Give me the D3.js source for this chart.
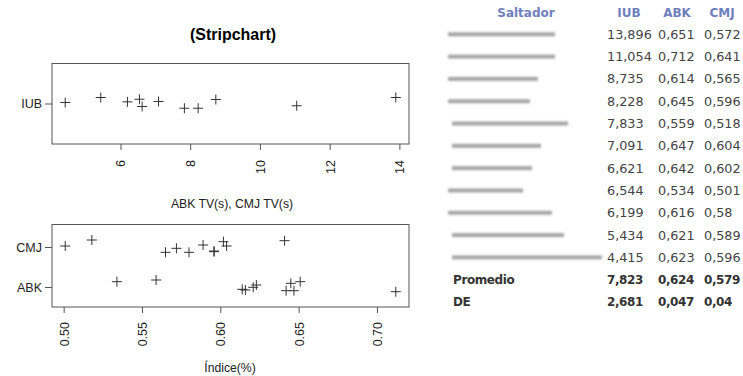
<!DOCTYPE html>
<html>
  <head>
    <meta charset="utf-8">
    <title>Stripchart</title>
    <script src="https://d3js.org/d3.v7.min.js"></script>
    <style>
      body { margin: 0; background: #fff; }
      svg { display: block; }
    </style>
  </head>
  <body>
    <script>
    // data from the table (one row per jumper)
    var iub = [13.896, 11.054, 8.735, 8.228, 7.833, 7.091, 6.621, 6.544, 6.199, 5.434, 4.415]
    var abk = [0.651, 0.712, 0.614, 0.645, 0.559, 0.647, 0.642, 0.534, 0.616, 0.621, 0.623]
    var cmj = [0.572, 0.641, 0.565, 0.596, 0.518, 0.604, 0.602, 0.501, 0.58, 0.589, 0.596]

    // vertical jitter (y units, + = up)
    var iubJitter = [0.08, -0.03, 0.053, -0.063, -0.063, 0.027, -0.04, 0.057, 0.022, 0.08, 0.013]
    var abkJitter = [0.133, -0.117, -0.058, 0.092, 0.175, -0.092, -0.092, 0.133, -0.075, -0.008, 0.05]
    var cmjJitter = [-0.033, 0.158, -0.133, -0.1, 0.175, 0.025, 0.133, 0.025, -0.133, 0.05, -0.117]

    var iubTicks = [6, 8, 10, 12, 14]
    var idxTicks = [0.50, 0.55, 0.60, 0.65, 0.70]

    var summaryLabels = ["Promedio", "DE"]
    var summaryIub = ["7,823", "2,681"]
    var summaryAbk = ["0,624", "0,047"]
    var summaryCmj = ["0,579", "0,04"]

    // redacted names: rough length of each blurred name
    var nameLen = [107, 107, 90, 82, 116, 89, 80, 75, 104, 112, 150]

    var width = 743, height = 376

    var svg = d3.select("body").append("svg")
      .attr("width", width)
      .attr("height", height)

    var defs = svg.append("defs")
    defs.append("filter").attr("id", "blur")
      .attr("x", "-10%").attr("y", "-200%").attr("width", "120%").attr("height", "500%")
      .append("feGaussianBlur").attr("stdDeviation", 1.3)

    var plotFont = "'Liberation Sans', Arial, sans-serif"
    var boxLeft = 52, boxRight = 409

    function cross(g, pts) {
      g.append("g").selectAll("path").data(pts).enter().append("path")
        .attr("d", function(d) {
          return "M" + (d[0] - 5) + "," + d[1] + "h10M" + d[0] + "," + (d[1] - 5) + "v10"
        })
        .attr("stroke", "#333")
        .attr("stroke-width", 1)
        .attr("fill", "none")
    }

    function styleAxis(g) {
      g.select(".domain").remove()
      g.selectAll("line").attr("stroke", "#555")
      g.selectAll("text").attr("fill", "#222")
        .style("font-family", plotFont).style("font-size", "12.5px")
    }

    // ---------- top panel: IUB ----------
    var panel1 = svg.append("g")
    var x1 = d3.scaleLinear()
      .domain([4.415 - 0.04 * 9.481, 13.896 + 0.04 * 9.481])
      .range([boxLeft, boxRight])
    var y1 = d3.scaleLinear().domain([0.46, 1.54]).range([144, 63])

    panel1.append("text")
      .attr("x", 233).attr("y", 40)
      .attr("text-anchor", "middle")
      .style("font-family", plotFont).style("font-size", "16px").style("font-weight", "bold")
      .text("(Stripchart)")

    panel1.append("rect")
      .attr("x", boxLeft).attr("y", 63.5)
      .attr("width", boxRight - boxLeft).attr("height", 80.5)
      .attr("fill", "none").attr("stroke", "#555")

    panel1.append("g")
      .attr("transform", "translate(0,144)")
      .call(d3.axisBottom(x1).tickValues(iubTicks).tickSize(6).tickFormat(d3.format("d")))
      .call(styleAxis)
      .selectAll("text")
      .attr("transform", "rotate(-90)")
      .attr("x", -16).attr("y", 0).attr("dy", "0.35em")
      .attr("text-anchor", "end")

    panel1.append("g")
      .attr("transform", "translate(" + boxLeft + ",0)")
      .call(d3.axisLeft(y1).tickValues([1]).tickSize(7).tickPadding(3).tickFormat(function() { return "IUB" }))
      .call(styleAxis)

    cross(panel1, iub.map(function(v, i) { return [x1(v), y1(1 + iubJitter[i])] }))

    // ---------- bottom panel: ABK / CMJ ----------
    var panel2 = svg.append("g")
    var x2 = d3.scaleLinear()
      .domain([0.501 - 0.04 * 0.211, 0.712 + 0.04 * 0.211])
      .range([boxLeft, boxRight])
    var y2 = d3.scaleLinear().domain([0.5, 2.575]).range([307, 224])

    panel2.append("text")
      .attr("x", 232).attr("y", 208)
      .attr("text-anchor", "middle")
      .attr("fill", "#222")
      .style("font-family", plotFont).style("font-size", "12.2px")
      .text("ABK TV(s), CMJ TV(s)")

    panel2.append("rect")
      .attr("x", boxLeft).attr("y", 224.5)
      .attr("width", boxRight - boxLeft).attr("height", 82.5)
      .attr("fill", "none").attr("stroke", "#555")

    panel2.append("g")
      .attr("transform", "translate(0,307)")
      .call(d3.axisBottom(x2).tickValues(idxTicks).tickSize(6).tickFormat(d3.format(".2f")))
      .call(styleAxis)
      .selectAll("text")
      .attr("transform", "rotate(-90)")
      .attr("x", -15).attr("y", 0).attr("dy", "0.35em")
      .attr("text-anchor", "end")

    var groups = ["ABK", "CMJ"]
    panel2.append("g")
      .attr("transform", "translate(" + boxLeft + ",0)")
      .call(d3.axisLeft(y2).tickValues([1, 2]).tickSize(7).tickPadding(3)
        .tickFormat(function(d) { return groups[d - 1] }))
      .call(styleAxis)

    panel2.append("text")
      .attr("x", 230).attr("y", 372)
      .attr("text-anchor", "middle")
      .attr("fill", "#222")
      .style("font-family", plotFont).style("font-size", "12.2px")
      .text("Índice(%)")

    cross(panel2, abk.map(function(v, i) { return [x2(v), y2(1 + abkJitter[i])] }))
    cross(panel2, cmj.map(function(v, i) { return [x2(v), y2(2 + cmjJitter[i])] }))

    // ---------- table ----------
    var tab = svg.append("g")
      .style("font-family", "'DejaVu Sans', Verdana, sans-serif")
    var nRows = iub.length + summaryLabels.length
    var rowY = d3.scalePoint().domain(d3.range(nRows)).range([34.3, 302])
    var fmt3 = function(v) { return String(v).replace(".", ",") }
    var colX = { iub: 607, abk: 658, cmj: 704 }
    var headColor = "#7080bd"

    var head = tab.append("g").style("font-size", "12px").style("font-weight", "bold")
      .attr("fill", headColor)
    head.append("text").attr("x", 526).attr("y", 13).attr("dy", "0.35em")
      .attr("text-anchor", "middle").text("Saltador")
    head.append("text").attr("x", 629).attr("y", 13).attr("dy", "0.35em")
      .attr("text-anchor", "middle").text("IUB")
    head.append("text").attr("x", 677).attr("y", 13).attr("dy", "0.35em")
      .attr("text-anchor", "middle").text("ABK")
    head.append("text").attr("x", 722).attr("y", 13).attr("dy", "0.35em")
      .attr("text-anchor", "middle").text("CMJ")

    // blurred names
    tab.selectAll("rect.name").data(nameLen).enter().append("rect")
      .attr("class", "name")
      .attr("x", function(d, i) { return i > 3 && i !== 7 && i !== 8 ? 452 : 448 })
      .attr("y", function(d, i) { return rowY(i) - 2 })
      .attr("width", function(d) { return d })
      .attr("height", 4)
      .attr("fill", "#a6a6a6")
      .attr("filter", "url(#blur)")

    var body = tab.append("g").style("font-size", "12.8px").attr("fill", "#444")
    var cols = [["iub", iub], ["abk", abk], ["cmj", cmj]]
    cols.forEach(function(c) {
      body.selectAll("text." + c[0]).data(c[1]).enter().append("text")
        .attr("class", c[0])
        .attr("x", colX[c[0]])
        .attr("y", function(d, i) { return rowY(i) })
        .attr("dy", "0.35em")
        .text(fmt3)
    })

    var foot = tab.append("g").style("font-size", "12px").style("font-weight", "bold")
      .style("letter-spacing", "-0.4px").attr("fill", "#333")
    summaryLabels.forEach(function(lab, j) {
      var y = rowY(iub.length + j)
      foot.append("text").attr("x", 453).attr("y", y).attr("dy", "0.35em").text(lab)
      foot.append("text").attr("x", colX.iub).attr("y", y).attr("dy", "0.35em").text(summaryIub[j])
      foot.append("text").attr("x", colX.abk).attr("y", y).attr("dy", "0.35em").text(summaryAbk[j])
      foot.append("text").attr("x", colX.cmj).attr("y", y).attr("dy", "0.35em").text(summaryCmj[j])
    })
    </script>
  </body>
</html>
